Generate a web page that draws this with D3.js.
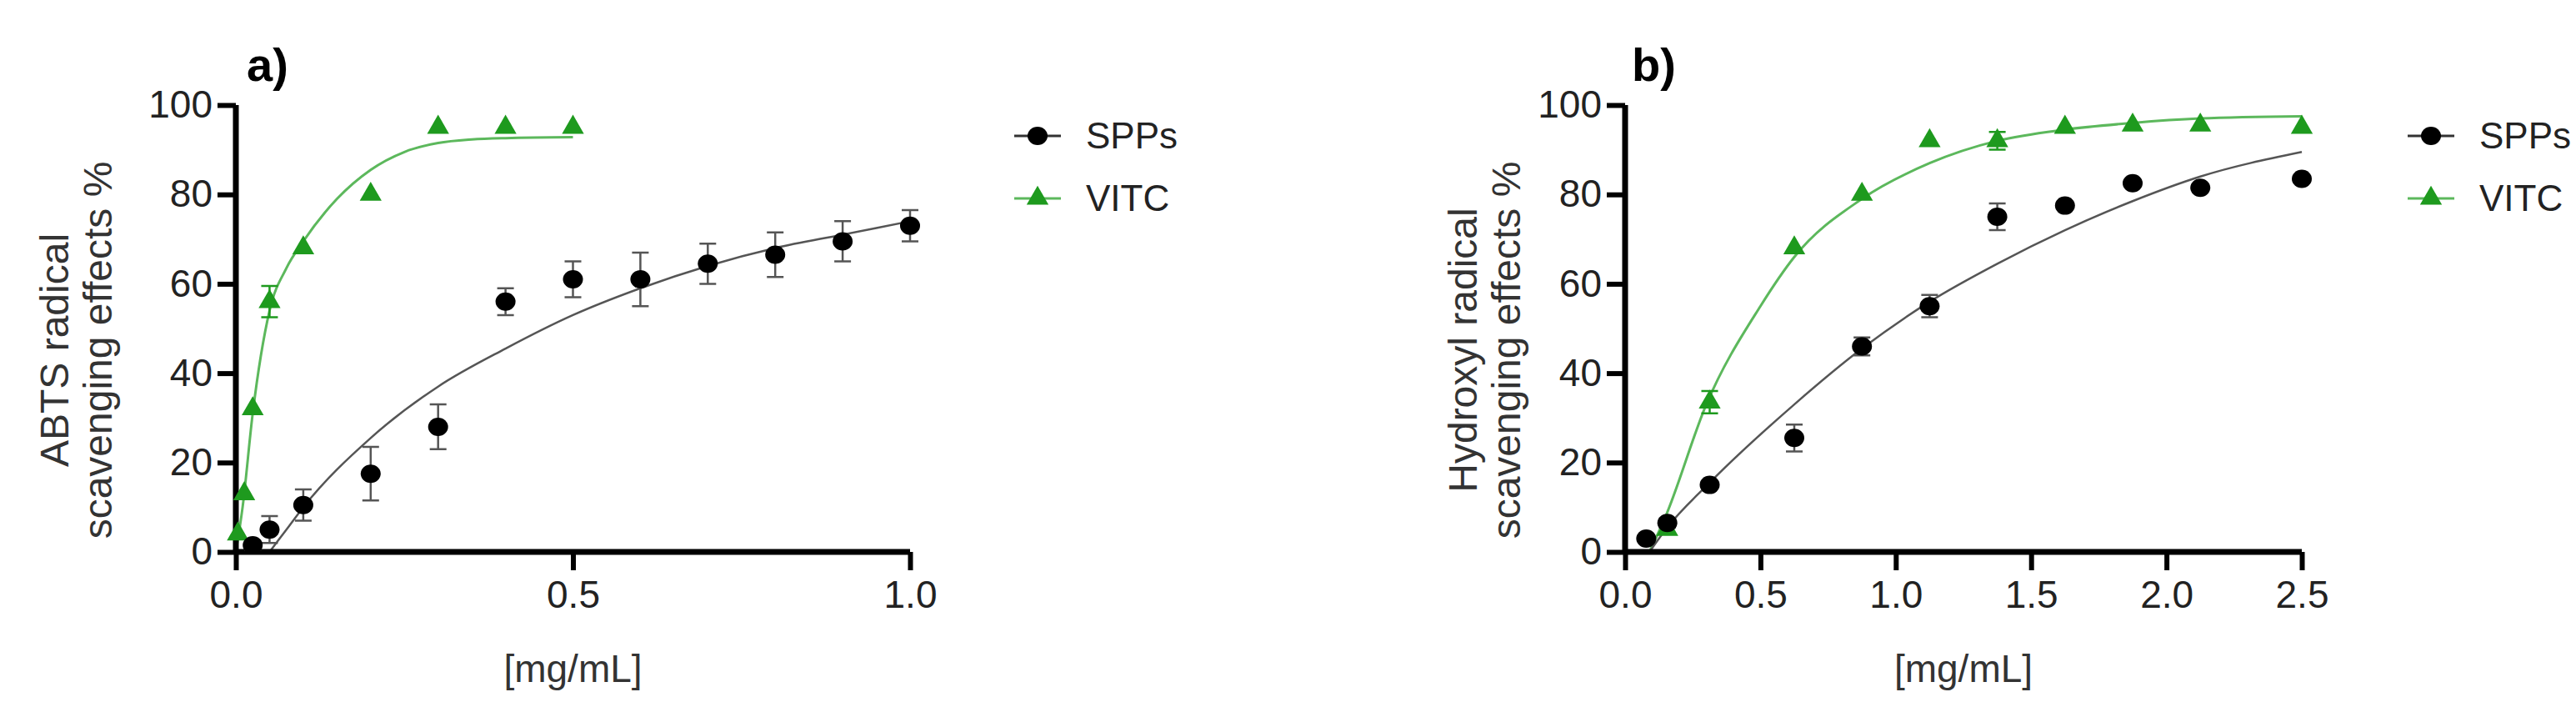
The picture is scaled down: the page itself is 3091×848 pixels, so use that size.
<!DOCTYPE html>
<html><head><meta charset="utf-8">
<script src="https://cdn.jsdelivr.net/npm/d3@7"></script>
<style>body{margin:0;background:#fff}text{font-family:"Liberation Sans",Arial,sans-serif}</style>
</head><body><svg id="c" width="3091" height="848"></svg>
<script>
// Panel a: ABTS
const aSppX=[0.025,0.05,0.1,0.2,0.3,0.4,0.5,0.6,0.7,0.8,0.9,1.0];
const aSppY=[1.5,5,10.5,17.5,28,56,61,61,64.5,66.5,69.5,73];
const aSppE=[1,3,3.5,6,5,3,4,6,4.5,5,4.5,3.5];
const aVitX=[0.003,0.0125,0.025,0.05,0.1,0.2,0.3,0.4,0.5];
const aVitY=[4,13,32,56,68,80,95,95,95];
const aVitE=[0,0,0,3.5,0,0,0,0,0];
const aSppFitX=[0.05,0.075,0.1,0.2,0.3,0.4,0.5,0.6,0.7,0.8,0.9,1.0];
const aSppFitY=[0,5,10,25.5,37,45.5,53,59,64,68,71,74];
const aVitFitX=[0,0.01,0.025,0.05,0.075,0.1,0.15,0.2,0.25,0.3,0.35,0.4,0.5];
const aVitFitY=[0,10,31,54,63.5,69.5,79,85.5,89.5,91.5,92.3,92.6,92.8];
const aXTicks=[0,0.5,1.0];
// Panel b: Hydroxyl
const bSppX=[0.078,0.156,0.3125,0.625,0.875,1.125,1.375,1.625,1.875,2.125,2.5];
const bSppY=[3,6.5,15,25.5,46,55,75,77.5,82.5,81.5,83.5];
const bSppE=[0,1,0,3,2,2.5,3,0,0,0,0];
const bVitX=[0.156,0.3125,0.625,0.875,1.125,1.375,1.625,1.875,2.125,2.5];
const bVitY=[5,33.5,68,80,92,92,95,95.5,95.5,95];
const bVitE=[0,2.5,0,0,0,2,0,0,0,0];
const bSppFitX=[0.09,0.156,0.3125,0.625,0.875,1.125,1.375,1.625,1.875,2.125,2.5];
const bSppFitY=[0,5.5,15.5,33,45.5,56,64.5,72,78.5,84,89.5];
const bVitFitX=[0.09,0.15,0.3,0.5,0.625,0.875,1.125,1.375,1.625,1.875,2.125,2.5];
const bVitFitY=[0,8,33,55,66,79,87,92,94.5,96,97,97.5];
const bXTicks=[0,0.5,1.0,1.5,2.0,2.5];
const yTicks=[0,20,40,60,80,100];

const svg=d3.select("#c");
const GREEN="#1e9a1e", GLINE="#5cb85c";
function panel(o){
  const g=svg.append("g");
  const x=d3.scaleLinear().domain([0,o.xmax]).range([o.x0,o.x1]);
  const y=d3.scaleLinear().domain([0,100]).range([662,126]);
  const line=d3.line().x(d=>x(d[0])).y(d=>y(d[1])).curve(d3.curveMonotoneX);
  g.append("path").attr("d",line(d3.zip(o.vfx,o.vfy))).attr("fill","none").attr("stroke",GLINE).attr("stroke-width",3);
  g.append("path").attr("d",line(d3.zip(o.sfx,o.sfy))).attr("fill","none").attr("stroke","#555").attr("stroke-width",2.5);
  const ya=g.append("g").attr("transform",`translate(${o.x0},0)`).call(d3.axisLeft(y).tickValues(yTicks).tickSize(22).tickPadding(6));
  const xa=g.append("g").attr("transform",`translate(0,662)`).call(d3.axisBottom(x).tickValues(o.xt).tickFormat(d3.format(".1f")).tickSize(22).tickPadding(12));
  [ya,xa].forEach(a=>{a.select(".domain").attr("stroke","#000").attr("stroke-width",7);
    a.selectAll(".tick line").attr("stroke","#000").attr("stroke-width",6);
    a.selectAll("text").attr("font-size",46).attr("fill","#222");});
  ya.select(".domain").attr("d",`M0,${y(100)}V${y(0)}`);
  xa.select(".domain").attr("d",`M${o.x0},0H${o.x1}`);
  function eb(xs,ys,es,col){
    xs.forEach((v,i)=>{ if(!es[i])return; const cx=x(v);
      g.append("path").attr("d",`M${cx},${y(ys[i]-es[i])}V${y(ys[i]+es[i])}M${cx-10},${y(ys[i]-es[i])}h20M${cx-10},${y(ys[i]+es[i])}h20`)
       .attr("stroke",col).attr("stroke-width",2.5).attr("fill","none");});
  }
  eb(o.sx,o.sy,o.se,"#555"); eb(o.vx,o.vy,o.ve,GREEN);
  const tri=d3.symbol().type(d3.symbolTriangle).size(300);
  g.selectAll(".v").data(d3.zip(o.vx,o.vy)).join("path").attr("d",tri).attr("fill",GREEN)
    .attr("transform",d=>`translate(${x(d[0])},${y(d[1])})`);
  g.selectAll(".s").data(d3.zip(o.sx,o.sy)).join("ellipse").attr("cx",d=>x(d[0])).attr("cy",d=>y(d[1]))
    .attr("rx",12).attr("ry",11).attr("fill","#000");
  g.append("text").attr("x",o.tx).attr("y",97).attr("font-size",56).attr("font-weight","bold").attr("fill","#000").text(o.title);
  g.append("text").attr("x",(o.x0+o.x1)/2).attr("y",818).attr("text-anchor","middle").attr("font-size",46).attr("fill","#333").text("[mg/mL]");
  const yl=g.append("text").attr("transform",`translate(${o.ylx},420) rotate(-90)`).attr("text-anchor","middle").attr("font-size",48).attr("fill","#333");
  yl.append("tspan").attr("x",0).attr("dy",0).text(o.yl1);
  yl.append("tspan").attr("x",0).attr("dy",52).text("scavenging effects %");
  const lx=o.lx;
  g.append("line").attr("x1",lx-28).attr("x2",lx+28).attr("y1",163).attr("y2",163).attr("stroke","#333").attr("stroke-width",3);
  g.append("ellipse").attr("cx",lx).attr("cy",163).attr("rx",12).attr("ry",11);
  g.append("text").attr("x",lx+58).attr("y",178).attr("font-size",44).attr("fill","#222").text("SPPs");
  g.append("line").attr("x1",lx-28).attr("x2",lx+28).attr("y1",238).attr("y2",238).attr("stroke",GLINE).attr("stroke-width",3);
  g.append("path").attr("d",tri).attr("fill",GREEN).attr("transform",`translate(${lx},238)`);
  g.append("text").attr("x",lx+58).attr("y",253).attr("font-size",44).attr("fill","#222").text("VITC");
}
panel({x0:283,x1:1092,xmax:1.0,xt:aXTicks,sx:aSppX,sy:aSppY,se:aSppE,vx:aVitX,vy:aVitY,ve:aVitE,
  sfx:aSppFitX,sfy:aSppFitY,vfx:aVitFitX,vfy:aVitFitY,title:"a)",tx:296,ylx:82,yl1:"ABTS radical",lx:1245});
panel({x0:1950,x1:2762,xmax:2.5,xt:bXTicks,sx:bSppX,sy:bSppY,se:bSppE,vx:bVitX,vy:bVitY,ve:bVitE,
  sfx:bSppFitX,sfy:bSppFitY,vfx:bVitFitX,vfy:bVitFitY,title:"b)",tx:1958,ylx:1772,yl1:"Hydroxyl radical",lx:2917});
</script></body></html>
